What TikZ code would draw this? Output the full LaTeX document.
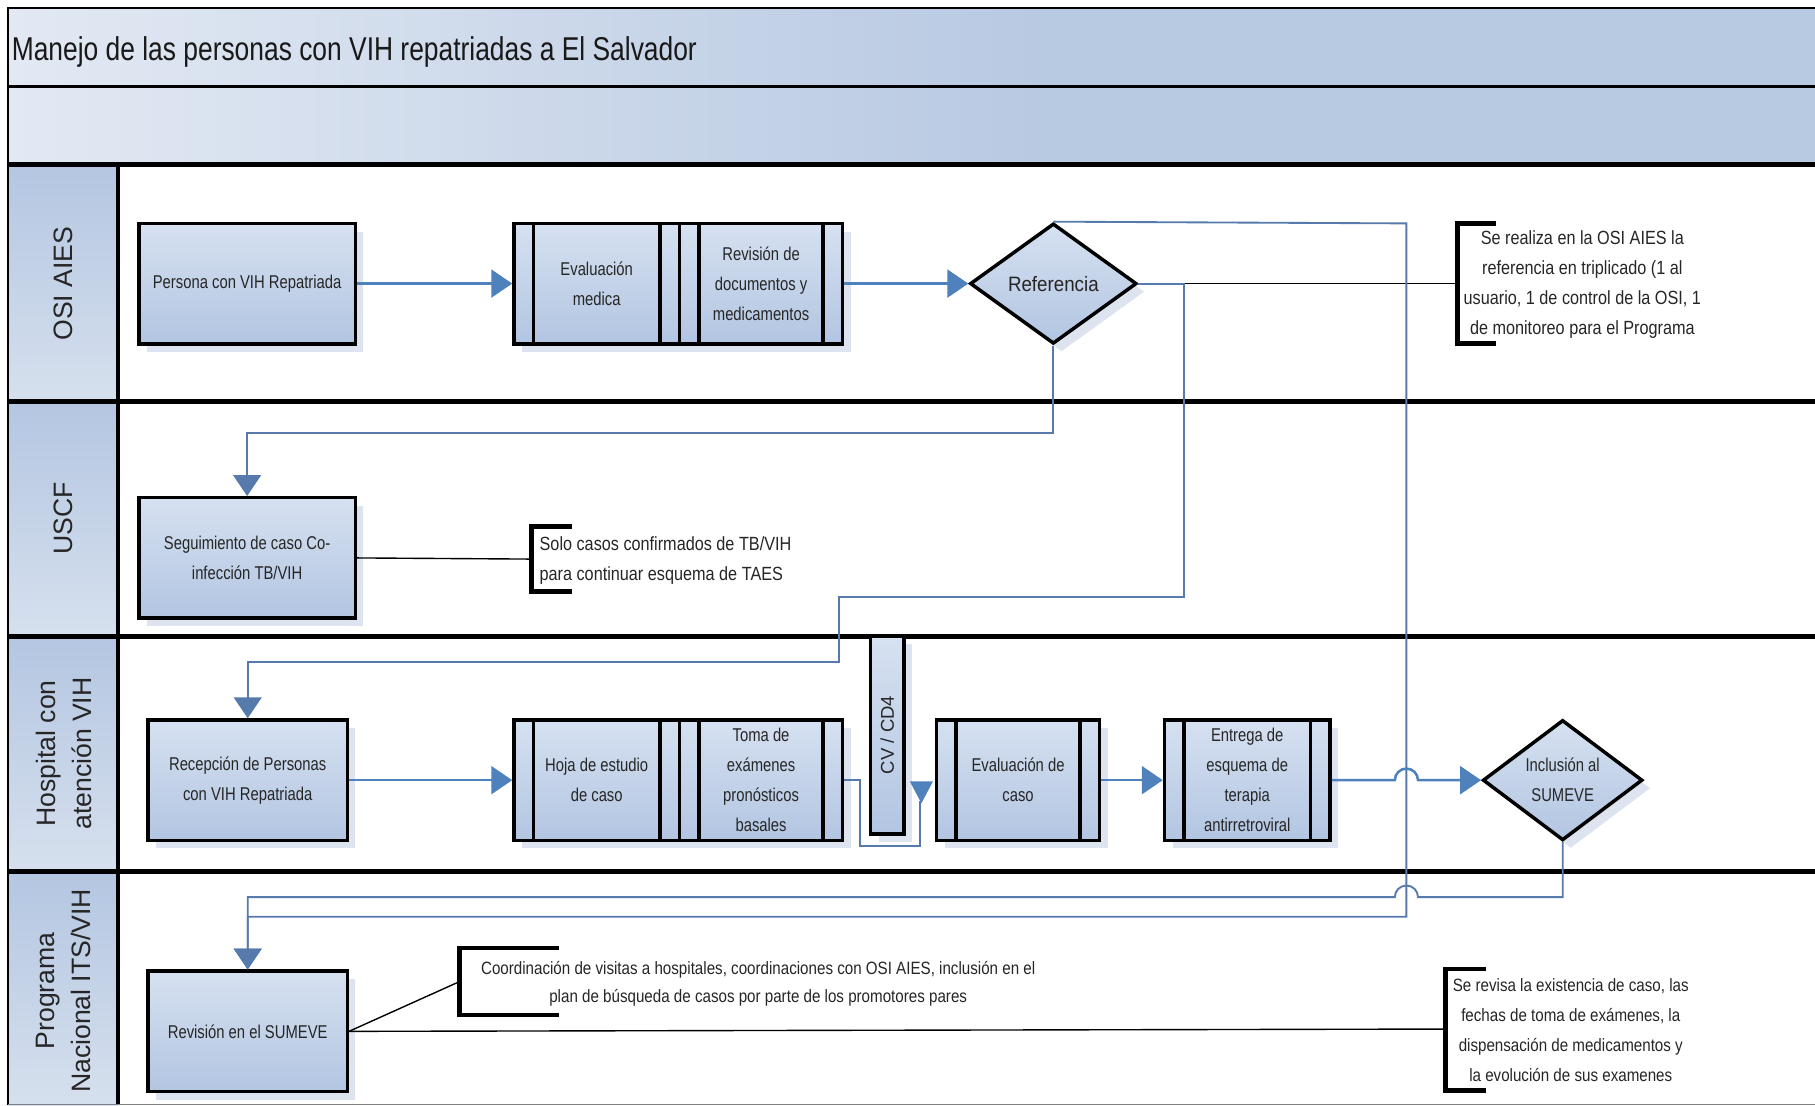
\documentclass[tikz,border=0pt]{standalone}
\usepackage{fontspec}
\setmainfont{Liberation Sans}
\newfontfamily\narrowf[FakeStretch=0.8]{Liberation Sans}
\newfontfamily\notef[FakeStretch=0.85]{Liberation Sans}
\newfontfamily\midf[FakeStretch=0.9]{Liberation Sans}
\usetikzlibrary{shapes.geometric,arrows.meta,shadows}

\definecolor{cblue}{RGB}{79,129,189}
\definecolor{rblue}{RGB}{86,122,172}
\definecolor{boxlight}{RGB}{214,225,241}
\definecolor{boxdark}{RGB}{178,197,225}
\definecolor{bandlight}{RGB}{226,233,243}
\definecolor{banddark}{RGB}{184,201,226}
\definecolor{lanetop}{RGB}{180,198,225}
\definecolor{lanebot}{RGB}{214,224,238}
\definecolor{shadowc}{RGB}{221,228,239}
\definecolor{textc}{RGB}{38,38,38}

\begin{document}
\begin{tikzpicture}[x=1pt,y=-1pt,
  procbox/.style={draw=black, line width=3pt, top color=boxlight, bottom color=boxdark,
    drop shadow={shadow xshift=7pt, shadow yshift=-7pt, fill=shadowc, opacity=1},
    align=center, text=textc, font=\narrowf\fontsize{16}{26}\selectfont, inner sep=2pt},
  subproc/.style={procbox, path picture={
    \draw[line width=3pt] ([xshift=17pt]path picture bounding box.north west) -- ([xshift=17pt]path picture bounding box.south west);
    \draw[line width=3pt] ([xshift=-17pt]path picture bounding box.north east) -- ([xshift=-17pt]path picture bounding box.south east);}},
  decision/.style={diamond, draw=black, line width=3pt, top color=boxlight, bottom color=boxdark,
    drop shadow={shadow xshift=7pt, shadow yshift=-7pt, fill=shadowc, opacity=1},
    inner sep=0pt, align=center, text=textc},
  lanelabel/.style={rotate=90, align=center, text=black!85, font=\fontsize{23}{31}\selectfont},
  notetext/.style={text=textc, font=\notef\fontsize{16.5}{26}\selectfont, inner sep=0pt},
  conn/.style={draw=cblue, line width=2.2pt, -{Triangle[length=18pt,width=24pt]}},
  route/.style={draw=rblue, line width=1.6pt, -{Triangle[length=18pt,width=24pt]}},
  routeplain/.style={draw=rblue, line width=1.6pt},
  noteline/.style={draw=black, line width=1.2pt},
  bracket/.style={draw=black, line width=4pt}
]
\useasboundingbox (0,0) rectangle (1568,955);
\fill[white] (0,0) rectangle (1568,955);

% header bands
\fill[left color=bandlight, right color=banddark] (7,7) rectangle (900,142);
\fill[banddark] (900,7) rectangle (1568,142);
% lane headers
\foreach \a/\b in {142/347, 347/550, 550/753, 753/955}
  \fill[top color=lanetop, bottom color=lanebot] (7,\a) rectangle (102,\b);

% frame and lane lines
\draw[line width=1.5pt] (7,955) -- (7,7) -- (1568,7);
\draw[line width=2.5pt] (7,75) -- (1568,75);
\draw[line width=4pt] (7,142) -- (1568,142);
\draw[line width=4pt] (7,347) -- (1568,347);
\draw[line width=4pt] (7,550) -- (1568,550);
\draw[line width=4pt] (7,753) -- (1568,753);
\draw[line width=3pt] (102,142) -- (102,955);
\draw[black!50, line width=1pt] (7,954) -- (1568,954);

% title
\node[anchor=west, text=black!90, font=\narrowf\fontsize{28.5}{34}\selectfont, inner sep=0pt] (title) at (10,45) {Manejo de las personas con VIH repatriadas a El Salvador};

% lane labels
\node[lanelabel] (l1) at (55,245) {OSI AIES};
\node[lanelabel] (l2) at (55,448) {USCF};
\node[lanelabel] (l3) at (55,651) {Hospital con\\atención VIH};
\node[lanelabel] (l4) at (55,856) {Programa\\Nacional ITS/VIH};

% OSI AIES lane
\node[procbox, minimum width=187pt, minimum height=104pt] (persona) at (213.5,245) {Persona con VIH Repatriada};
\node[subproc, minimum width=143pt, minimum height=104pt] (evalmed) at (515.5,245) {Evaluación\\medica};
\node[subproc, minimum width=141pt, minimum height=104pt] (revdoc) at (657.5,245) {Revisión de\\documentos y\\medicamentos};
\node[decision, minimum width=144pt, minimum height=104pt, font=\midf\fontsize{18}{22}\selectfont] (ref) at (910,245) {Referencia};

% USCF lane
\node[procbox, minimum width=187pt, minimum height=104pt] (seg) at (213.5,482) {Seguimiento de caso Co-\\infección TB/VIH};

% Hospital lane
\node[procbox, minimum width=172pt, minimum height=104pt] (recep) at (214,674) {Recepción de Personas\\con VIH Repatriada};
\node[subproc, minimum width=143pt, minimum height=104pt] (hoja) at (515.5,674) {Hoja de estudio\\de caso};
\node[subproc, minimum width=141pt, minimum height=104pt] (toma) at (657.5,674) {Toma de\\exámenes\\pronósticos\\basales};
\fill[shadowc] (759,556) rectangle (788,727);
\node[draw=black, line width=3pt, top color=boxlight, bottom color=boxdark, rotate=90,
  minimum width=171pt, minimum height=29pt, inner sep=0pt, text=textc,
  font=\fontsize{16}{20}\selectfont] (cv) at (766.5,635) {CV / CD4};
\node[subproc, minimum width=141pt, minimum height=104pt] (evalcaso) at (879.5,674) {Evaluación de\\caso};
\node[subproc, minimum width=143pt, minimum height=104pt] (entrega) at (1077.5,674) {Entrega de\\esquema de\\terapia\\antirretroviral};
\node[decision, minimum width=138pt, minimum height=104pt, font=\narrowf\fontsize{16}{26}\selectfont] (incl) at (1350,674) {Inclusión al\\SUMEVE};

% Programa lane
\node[procbox, minimum width=172pt, minimum height=104pt] (revision) at (214,891) {Revisión en el SUMEVE};

% notes
\coordinate (b1) at (1259,245);
\coordinate (b2) at (459,483);
\coordinate (b3) at (397,848);
\coordinate (b4) at (1249,889);
\draw[noteline] (ref.east) -- (b1);
\draw[noteline] (seg.east) -- (b2);
\draw[noteline] (revision.east) -- (b3);
\draw[noteline] (revision.east) -- (b4);
\draw[bracket] (1292,193) -- (1259,193) -- (1259,297) -- (1292,297);
\draw[bracket] (494,455) -- (459,455) -- (459,511) -- (494,511);
\draw[bracket] (483,819) -- (397,819) -- (397,877) -- (483,877);
\draw[bracket] (1284,837) -- (1249,837) -- (1249,942) -- (1284,942);
\node[notetext, align=center] (n1) at (1367,246) {Se realiza en la OSI AIES la\\referencia en triplicado (1 al\\usuario, 1 de control de la OSI, 1\\de monitoreo para el Programa};
\node[notetext, align=left, anchor=west] (n2) at (466,484) {Solo casos confirmados de TB/VIH\\para continuar esquema de TAES};
\node[notetext, align=center, font=\notef\fontsize{15.4}{24}\selectfont] (n3) at (655,850) {Coordinación de visitas a hospitales, coordinaciones con OSI AIES, inclusión en el\\plan de búsqueda de casos por parte de los promotores pares};
\node[notetext, align=center, font=\notef\fontsize{15.4}{26}\selectfont] (n4) at (1357,890) {Se revisa la existencia de caso, las\\fechas de toma de exámenes, la\\dispensación de medicamentos y\\la evolución de sus examenes};

% connectors
\draw[conn] (persona) -- (evalmed);
\draw[conn] (revdoc) -- (ref);
\draw[route] (ref.south) -- (910,374) -| (seg.north);
\draw[route] (ref.east) -- (1023,245) -- (1023,516) -- (725,516) -- (725,572) -| (recep.north);
\draw[route] (ref.north) -- (1215,193) -- (1215,792) -| (revision.north);
\draw[conn] (recep) -- (hoja);
\draw[routeplain] (toma.east) -- (743,674) -- (743,731) -- (795,731) -- (795,692);
\fill[cblue] (786,675) -- (806,675) -- (796,694) -- cycle;
\draw[conn] (evalcaso) -- (entrega);
\draw[conn] (entrega.east) -- (1205,674) arc[start angle=180, end angle=0, radius=10pt] -- (incl.west);
\draw[route] (incl.south) -- (1350,775) -- (1225,775) arc[start angle=0, end angle=180, radius=10pt] -- (214,775) -- (revision.north);
\end{tikzpicture}
\end{document}
